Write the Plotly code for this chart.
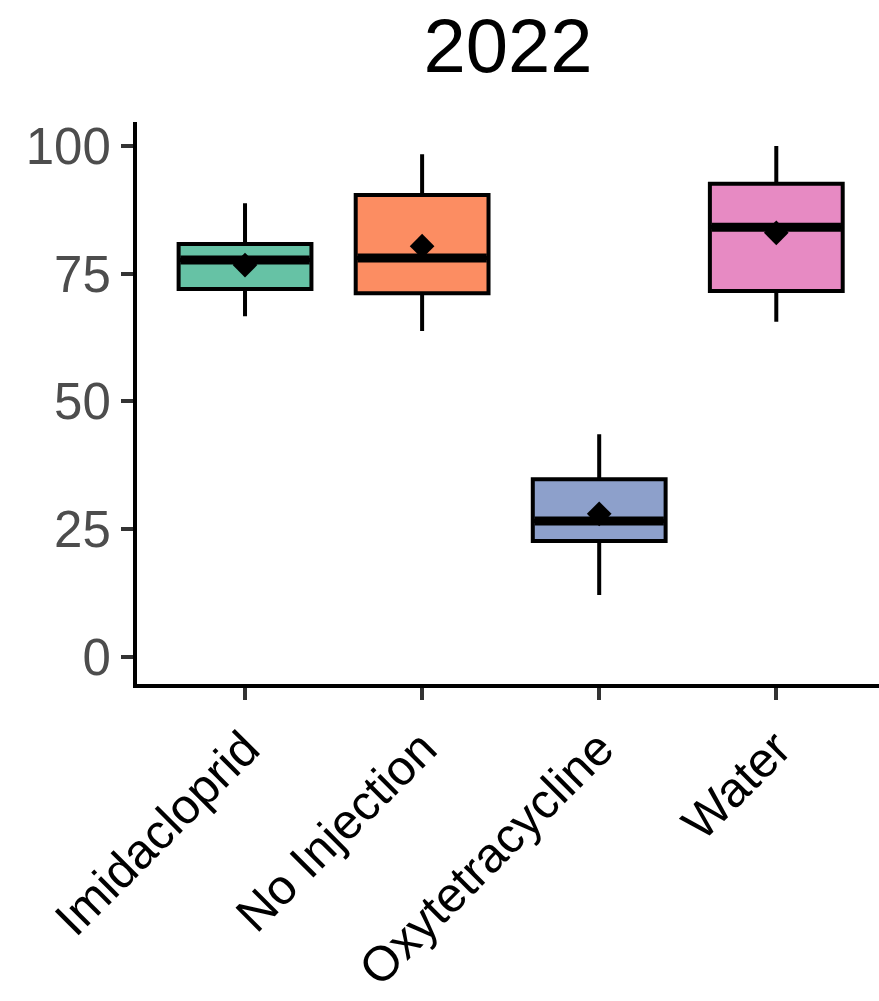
import plotly.graph_objects as go

categories = ["Imidacloprid", "No Injection", "Oxytetracycline", "Water"]
colors = ["#66C2A5", "#FC8D62", "#8DA0CB", "#E78AC3"]
lower_whisker = [66.7, 63.8, 12.1, 65.6]
q1_values = [72.0, 71.2, 22.7, 71.6]
medians = [77.7, 78.1, 26.6, 84.1]
q3_values = [80.8, 90.4, 34.8, 92.6]
upper_whisker = [88.8, 98.4, 43.6, 100.0]
means = [76.7, 80.4, 28.0, 83.0]
y_ticks = [0, 25, 50, 75, 100]

BOX_W = 0.75
FONT = "Liberation Sans, Arial, sans-serif"

fig = go.Figure()
for i, cat in enumerate(categories):
    fig.add_trace(go.Box(
        x=[i], q1=[q1_values[i]], median=[medians[i]], q3=[q3_values[i]],
        lowerfence=[lower_whisker[i]], upperfence=[upper_whisker[i]],
        width=BOX_W, whiskerwidth=0, fillcolor=colors[i],
        line=dict(color="black", width=4), boxpoints=False,
        showlegend=False, name=cat, hoverinfo="skip",
    ))
    # thick median bar (ggplot-style fatten)
    fig.add_trace(go.Scatter(
        x=[i - BOX_W / 2 + 0.01, i + BOX_W / 2 - 0.01], y=[medians[i], medians[i]],
        mode="lines", line=dict(color="black", width=9),
        showlegend=False, hoverinfo="skip",
    ))

fig.add_trace(go.Scatter(
    x=list(range(len(categories))), y=means, mode="markers",
    marker=dict(symbol="diamond", size=19, color="black"),
    showlegend=False, hoverinfo="skip",
))

fig.update_layout(
    width=879, height=1001,
    margin=dict(l=137, r=0, t=122, b=317, autoexpand=False),
    paper_bgcolor="white", plot_bgcolor="white",
    title=dict(text="2022", x=0.5, xref="paper", xanchor="center",
               y=0.955, yref="container", yanchor="middle",
               font=dict(family=FONT, size=76, color="black")),
    font=dict(family=FONT),
)
fig.update_xaxes(
    range=[-0.61, 3.58], tickvals=list(range(len(categories))), ticktext=categories,
    tickangle=-45, showgrid=False, zeroline=False, automargin=False,
    showline=True, linecolor="black", linewidth=4,
    ticks="outside", ticklen=12, tickwidth=4, tickcolor="#333333",
    tickfont=dict(family=FONT, size=49, color="black"),
)
fig.update_yaxes(
    range=[-5.3, 104.7], tickvals=y_ticks, ticktext=[str(v) for v in y_ticks],
    showgrid=False, zeroline=False, automargin=False,
    showline=True, linecolor="black", linewidth=4,
    ticks="outside", ticklen=12, tickwidth=4, tickcolor="#333333",
    tickfont=dict(family=FONT, size=51, color="#4D4D4D"),
)

fig.write_html("out.html")
